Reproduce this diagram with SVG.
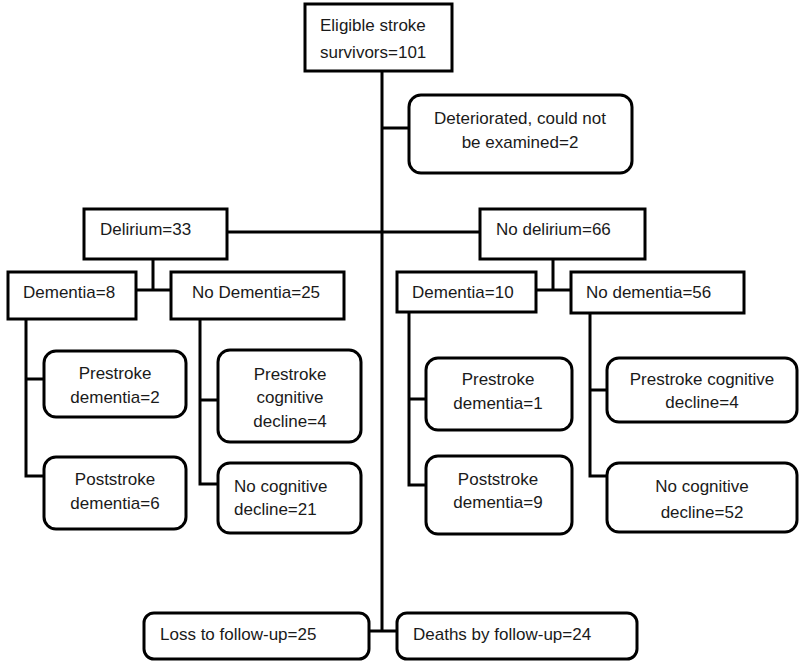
<svg xmlns="http://www.w3.org/2000/svg" width="800" height="666" viewBox="0 0 800 666">
<style>
.b{fill:#fff;stroke:#000;stroke-width:3}
.c{fill:none;stroke:#000;stroke-width:3}
text{font-family:"Liberation Sans",Arial,sans-serif;font-size:17px;fill:#1a1a1a}
.m{text-anchor:middle}
</style>
<rect width="800" height="666" fill="#fff"/>
<g id="connectors">
<path class="c" d="M382 71V631M382 128H409M227 232H480M153 259V290M136 290H171M553 259V290M536 290H571M26 319V476H44M26 379H44M200 319V484H218M200 400H218M409 312V485H426M409 399H426M590 313V476H607M590 390H607M369 631H397"/>
</g>
<g id="n_top"><rect class="b" x="305" y="4" width="147" height="67"/><text x="320" y="31">Eligible stroke</text><text x="320" y="58">survivors=101</text></g>
<g id="n_det"><rect class="b" x="409" y="95" width="223" height="78" rx="12"/><text class="m" x="520" y="124">Deteriorated, could not</text><text class="m" x="520" y="148">be examined=2</text></g>
<g id="n_del"><rect class="b" x="84" y="209" width="143" height="50"/><text x="100" y="235">Delirium=33</text></g>
<g id="n_nodel"><rect class="b" x="480" y="209" width="165" height="50"/><text x="496" y="235">No delirium=66</text></g>
<g id="n_dem8"><rect class="b" x="8" y="272" width="128" height="47"/><text x="23" y="298">Dementia=8</text></g>
<g id="n_nodem25"><rect class="b" x="171" y="272" width="173" height="47"/><text x="192" y="298">No Dementia=25</text></g>
<g id="n_dem10"><rect class="b" x="397" y="272" width="139" height="40"/><text x="412" y="298">Dementia=10</text></g>
<g id="n_nodem56"><rect class="b" x="571" y="272" width="173" height="41"/><text x="586" y="298">No dementia=56</text></g>
<g id="n_pre2"><rect class="b" x="44" y="351" width="142" height="66" rx="12"/><text class="m" x="115" y="379">Prestroke</text><text class="m" x="115" y="403">dementia=2</text></g>
<g id="n_post6"><rect class="b" x="44" y="457" width="142" height="72" rx="12"/><text class="m" x="115" y="485">Poststroke</text><text class="m" x="115" y="509">dementia=6</text></g>
<g id="n_precog4a"><rect class="b" x="218" y="350" width="143" height="92" rx="12"/><text class="m" x="290" y="380">Prestroke</text><text class="m" x="290" y="403">cognitive</text><text class="m" x="290" y="427">decline=4</text></g>
<g id="n_nocog21"><rect class="b" x="218" y="463" width="143" height="70" rx="12"/><text x="234" y="492">No cognitive</text><text x="234" y="515">decline=21</text></g>
<g id="n_pre1"><rect class="b" x="426" y="358" width="146" height="72" rx="12"/><text class="m" x="498" y="385">Prestroke</text><text class="m" x="498" y="409">dementia=1</text></g>
<g id="n_post9"><rect class="b" x="426" y="456" width="146" height="78" rx="12"/><text class="m" x="498" y="485">Poststroke</text><text class="m" x="498" y="508">dementia=9</text></g>
<g id="n_precog4b"><rect class="b" x="607" y="358" width="190" height="64" rx="12"/><text class="m" x="702" y="385">Prestroke cognitive</text><text class="m" x="702" y="408">decline=4</text></g>
<g id="n_nocog52"><rect class="b" x="607" y="463" width="190" height="69" rx="12"/><text class="m" x="702" y="492">No cognitive</text><text class="m" x="702" y="518">decline=52</text></g>
<g id="n_loss"><rect class="b" x="144" y="613" width="225" height="46" rx="10"/><text x="160" y="640">Loss to follow-up=25</text></g>
<g id="n_death"><rect class="b" x="397" y="613" width="240" height="46" rx="10"/><text x="413" y="640">Deaths by follow-up=24</text></g>
</svg>
